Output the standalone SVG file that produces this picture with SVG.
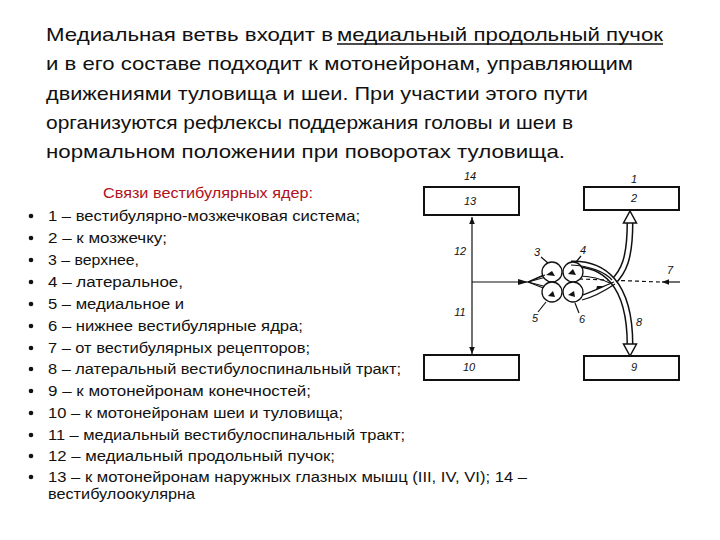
<svg xmlns="http://www.w3.org/2000/svg" width="720" height="540" viewBox="0 0 720 540">
<defs>
<style>
.p{font-family:"Liberation Sans",Arial,sans-serif;font-size:19px;fill:#111}
.l{font-family:"Liberation Sans",Arial,sans-serif;font-size:15.5px;fill:#111}
.h{font-family:"Liberation Sans",Arial,sans-serif;font-size:15.5px;fill:#b01020}
.n{font-family:"Liberation Sans",Arial,sans-serif;font-size:11px;font-style:italic;fill:#111;text-anchor:middle}
.box{fill:#fff;stroke:#111;stroke-width:2}
.thin{fill:none;stroke:#111;stroke-width:1.2}
.dbo{fill:none;stroke:#111;stroke-width:7}
.dbi{fill:none;stroke:#fff;stroke-width:4}
</style>
<marker id="ah" viewBox="0 0 10 10" refX="10" refY="5" markerWidth="7" markerHeight="7" orient="auto-start-reverse" markerUnits="userSpaceOnUse">
<path d="M0,1 L10,5 L0,9 z" fill="#111"/>
</marker>
</defs>
<rect width="720" height="540" fill="#fff"/>

<g id="paragraph">
<text class="p" x="46" y="41" textLength="287" lengthAdjust="spacingAndGlyphs">Медиальная ветвь входит в</text>
<text class="p" x="337" y="41" textLength="326" lengthAdjust="spacingAndGlyphs">медиальный продольный пучок</text>
<line x1="337" y1="44" x2="663" y2="44" stroke="#111" stroke-width="1.3"/>
<text class="p" x="46" y="70" textLength="587" lengthAdjust="spacingAndGlyphs">и в его составе подходит к мотонейронам, управляющим</text>
<text class="p" x="46" y="100" textLength="542" lengthAdjust="spacingAndGlyphs">движениями туловища и шеи. При участии этого пути</text>
<text class="p" x="46" y="129" textLength="527" lengthAdjust="spacingAndGlyphs">организуются рефлексы поддержания головы и шеи в</text>
<text class="p" x="46" y="158" textLength="519" lengthAdjust="spacingAndGlyphs">нормальном положении при поворотах туловища.</text>
</g>

<g id="legend">
<text class="h" x="103" y="198" textLength="210" lengthAdjust="spacingAndGlyphs">Связи вестибулярных ядер:</text>
<g fill="#111">
<circle cx="31" cy="216" r="2.3"/><circle cx="31" cy="238" r="2.3"/><circle cx="31" cy="260" r="2.3"/>
<circle cx="31" cy="282" r="2.3"/><circle cx="31" cy="304" r="2.3"/><circle cx="31" cy="326" r="2.3"/>
<circle cx="31" cy="348" r="2.3"/><circle cx="31" cy="369" r="2.3"/><circle cx="31" cy="391" r="2.3"/>
<circle cx="31" cy="413" r="2.3"/><circle cx="31" cy="435" r="2.3"/><circle cx="31" cy="456" r="2.3"/>
<circle cx="31" cy="477" r="2.3"/>
</g>
<text class="l" x="48" y="221" textLength="312" lengthAdjust="spacingAndGlyphs">1 – вестибулярно-мозжечковая система;</text>
<text class="l" x="48" y="243" textLength="119" lengthAdjust="spacingAndGlyphs">2 – к мозжечку;</text>
<text class="l" x="48" y="265" textLength="91" lengthAdjust="spacingAndGlyphs">3 – верхнее,</text>
<text class="l" x="48" y="287" textLength="135" lengthAdjust="spacingAndGlyphs">4 – латеральное,</text>
<text class="l" x="48" y="309" textLength="136" lengthAdjust="spacingAndGlyphs">5 – медиальное и</text>
<text class="l" x="48" y="331" textLength="255" lengthAdjust="spacingAndGlyphs">6 – нижнее вестибулярные ядра;</text>
<text class="l" x="48" y="353" textLength="262" lengthAdjust="spacingAndGlyphs">7 – от вестибулярных рецепторов;</text>
<text class="l" x="48" y="374" textLength="353" lengthAdjust="spacingAndGlyphs">8 – латеральный вестибулоспинальный тракт;</text>
<text class="l" x="48" y="396" textLength="263" lengthAdjust="spacingAndGlyphs">9 – к мотонейронам конечностей;</text>
<text class="l" x="48" y="418" textLength="295" lengthAdjust="spacingAndGlyphs">10 – к мотонейронам шеи и туловища;</text>
<text class="l" x="48" y="440" textLength="357" lengthAdjust="spacingAndGlyphs">11 – медиальный вестибулоспинальный тракт;</text>
<text class="l" x="48" y="461" textLength="287" lengthAdjust="spacingAndGlyphs">12 – медиальный продольный пучок;</text>
<text class="l" x="48" y="482" textLength="479" lengthAdjust="spacingAndGlyphs">13 – к мотонейронам наружных глазных мышц (III, IV, VI); 14 –</text>
<text class="l" x="48" y="499" textLength="147" lengthAdjust="spacingAndGlyphs">вестибулоокулярна</text>
</g>

<g id="connectors">
<line class="thin" x1="472" y1="217" x2="472" y2="354" marker-start="url(#ah)" marker-end="url(#ah)"/>
<line class="thin" x1="528" y1="282" x2="472" y2="282"/>
<path d="M528,282 L518,279 L518,285 z" fill="#111"/>
<path class="thin" d="M528,282 L550,272"/>
<path class="thin" d="M528,282 L551,291"/>
<path class="thin" d="M528,282 L546,277"/>
<path class="thin" d="M528,282 L547,287"/>
<line class="thin" x1="680" y1="282" x2="662" y2="282" marker-end="url(#ah)"/>
<line x1="660" y1="282" x2="580" y2="279" stroke="#111" stroke-width="1.2" stroke-dasharray="4,3"/>
<path class="dbo" d="M612,283 C624,272 630,258 630,222"/>
<path class="dbi" d="M612,283 C624,272 630,258 630,222"/>
<path d="M630,211 L636.5,223 L623.5,223 z" fill="#fff" stroke="#111" stroke-width="1.5"/>
<path class="dbo" d="M571,264 C603,263 630,282 630,345"/>
<path class="dbi" d="M571,264 C603,263 630,282 630,345"/>
<path d="M630,356 L636.5,344 L623.5,344 z" fill="#fff" stroke="#111" stroke-width="1.5"/>
<path class="thin" d="M578,276 C592,276 604,280 612,284"/>
<path class="thin" d="M580,296 C592,292 604,286 614,282"/>
<path class="thin" d="M582,300 C594,297 606,290 615,284"/>
<path d="M604,286 L596,290 L597,286 z" fill="#111"/>
<line class="thin" x1="541" y1="257" x2="548" y2="263"/>
<line class="thin" x1="581" y1="256" x2="576" y2="262"/>
<line class="thin" x1="538" y1="312" x2="546" y2="302"/>
<line class="thin" x1="579" y1="313" x2="575" y2="303"/>
</g>

<g id="node-13"><rect class="box" x="424" y="187" width="95" height="28"/><text class="n" x="470" y="205">13</text><text class="n" x="470" y="180">14</text></g>
<g id="node-2"><rect class="box" x="584" y="187" width="95" height="23"/><text class="n" x="634" y="202">2</text><text class="n" x="634" y="183">1</text></g>
<g id="node-10"><rect class="box" x="424" y="355" width="95" height="25"/><text class="n" x="469" y="371">10</text></g>
<g id="node-9"><rect class="box" x="584" y="356" width="95" height="24"/><text class="n" x="634" y="371">9</text></g>
<g id="nuclei">
<circle cx="552" cy="272" r="10" fill="#fff" stroke="#111" stroke-width="1.3"/>
<circle cx="573" cy="272" r="10" fill="#fff" stroke="#111" stroke-width="1.3"/>
<circle cx="552" cy="292" r="10" fill="#fff" stroke="#111" stroke-width="1.3"/>
<circle cx="573" cy="292" r="10" fill="#fff" stroke="#111" stroke-width="1.3"/>
<path d="M552,271 L546,275 L555,276 z" fill="#111"/>
<path d="M573,269 L568,274 L576,275 z" fill="#111"/>
<path d="M553,291 L548,296 L555,297 z" fill="#111"/>
<path d="M574,291 L568,295 L575,297 z" fill="#111"/>
<path class="thin" d="M528,282 L545,275"/>
<path class="thin" d="M571,265 C590,266 605,272 612,280"/>
</g>
<g id="labels">
<text class="n" x="537" y="256">3</text>
<text class="n" x="583" y="254">4</text>
<text class="n" x="535" y="322">5</text>
<text class="n" x="582" y="323">6</text>
<text class="n" x="670" y="274">7</text>
<text class="n" x="639" y="326">8</text>
<text class="n" x="460" y="255">12</text>
<text class="n" x="460" y="316">11</text>
</g>
</svg>
